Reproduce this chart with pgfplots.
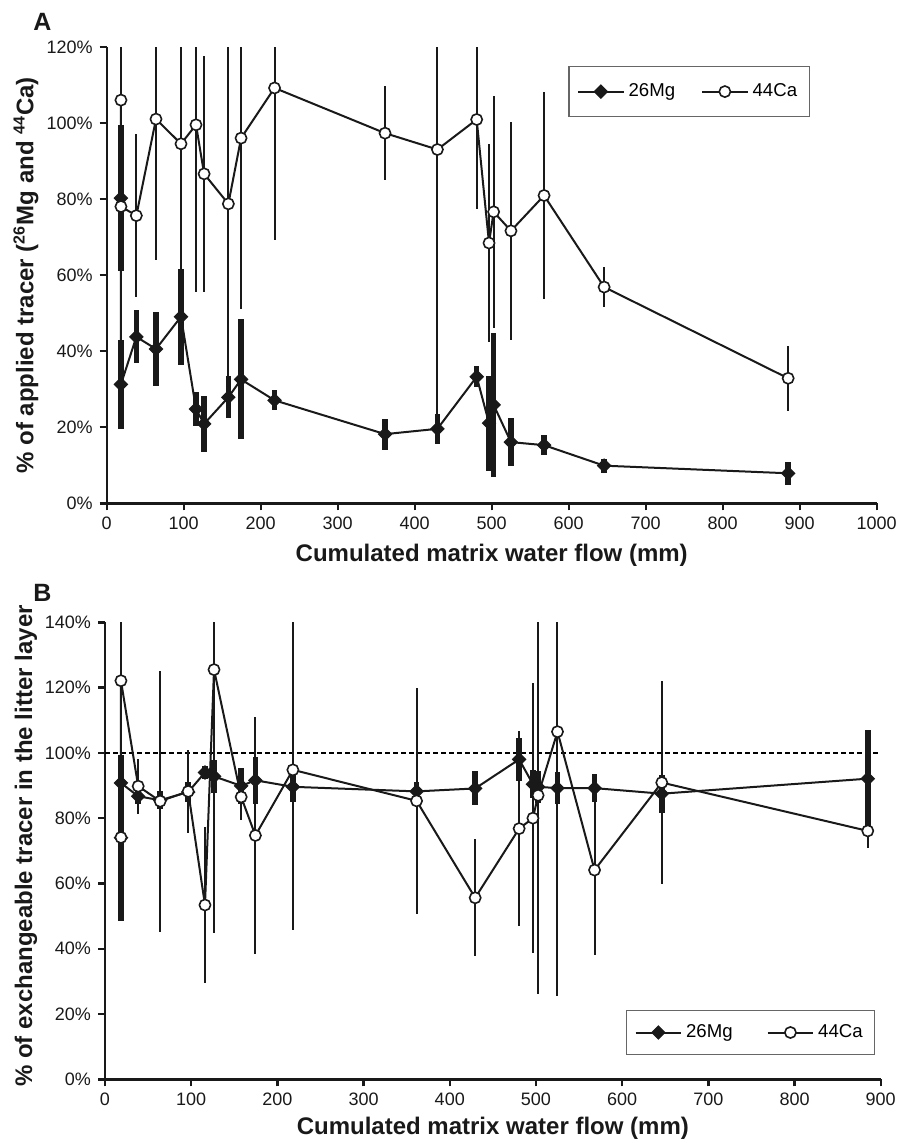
\documentclass[border=0pt]{standalone}
\usepackage{pgfplots}
\pgfplotsset{compat=1.18}
\usepackage{fontspec}
\setmainfont{Liberation Sans}

\pgfplotsset{
  panel/.style={
    scale only axis,
    axis x line*=bottom, axis y line*=left,
    axis line style={line width=1.2pt, black!90},
    every tick/.style={line width=1.2pt, black!90},
    major tick length=3.5pt,
    tick align=outside,
    /pgf/number format/assume math mode=true,
    /pgf/number format/set thousands separator={},
    tick label style={font=\fontsize{9}{10}\selectfont, black!90},
    label style={font=\bfseries\fontsize{12}{14}\selectfont, black!90},
    legend style={draw=black!60, line width=0.6pt, font=\fontsize{9.3}{10}\selectfont,
      inner xsep=4pt},
    legend columns=2,
  },
  mg/.style={
    black!90, line width=1pt,
    mark=square*, mark size=2.3pt, mark options={rotate=45, fill=black!90, line width=0.6pt},
    error bars/.cd, y dir=both, y explicit, error mark=none,
    error bar style={line width=2.8pt, black!90},
  },
  ca/.style={
    black!90, line width=1pt,
    mark=*, mark size=2.8pt, mark options={fill=white, line width=0.8pt},
    error bars/.cd, y dir=both, y explicit, error mark=none,
    error bar style={line width=1pt, black!90},
  },
  legend image code/.code={
    \draw[mark repeat=2, mark phase=2] plot coordinates {(0cm,0cm) (0.4cm,0cm) (0.8cm,0cm)};
  },
}

\begin{document}
\begin{tikzpicture}[x=1pt, y=1pt]
\path[use as bounding box] (0,0) rectangle (454,-571.5);

% ---- panel A
\begin{axis}[panel,
  at={(53.35pt,-251.65pt)}, anchor=south west,
  width=385pt, height=228pt,
  xmin=0, xmax=1000, ymin=0, ymax=120,
  xtick={0,100,...,1000},
  ytick={0,20,...,120},
  yticklabels={0\%,20\%,40\%,60\%,80\%,100\%,120\%},
  xlabel={Cumulated matrix water flow (mm)},
  ylabel={\% of applied tracer (\textsuperscript{26}Mg and \textsuperscript{44}Ca)},
  xlabel style={at={(axis description cs:0.5,-0.1134)}, anchor=center},
  ylabel style={at={(axis description cs:-0.1048,0.5)}, anchor=center},
  legend style={at={(0.913,0.959)}, anchor=north east, inner ysep=6.5pt,
    /tikz/every even column/.append style={column sep=11pt}},
]
\addplot[mg] coordinates {
  (18.5,80.3) +- (0,19.3)
  (18.5,31.3) +- (0,11.8)
  (38.5,43.8) +- (0,7.0)
  (64,40.6) +- (0,9.8)
  (96.5,49.1) +- (0,12.6)
  (116,24.8) +- (0,4.5)
  (126.5,20.9) +- (0,7.4)
  (158,27.9) +- (0,5.5)
  (174.5,32.6) +- (0,15.8)
  (218,27.1) +- (0,2.6)
  (361.5,18.2) +- (0,4.1)
  (429.5,19.6) +- (0,4.0)
  (480.5,33.3) +- (0,2.8)
  (496.5,21.1) +- (0,12.5)
  (502.5,25.9) +- (0,19.0)
  (525,16.1) +- (0,6.3)
  (568,15.3) +- (0,2.6)
  (646,9.9) +- (0,1.8)
  (885,7.9) +- (0,3.0)
};
\addlegendentry{26Mg}
\addplot[ca] coordinates {
  (18.5,106.1) +- (0,30)
  (18.5,78.1) +- (0,35)
  (38.5,75.7) +- (0,21.5)
  (64,101.1) +- (0,37)
  (96.5,94.6) +- (0,33)
  (116,99.6) +- (0,44)
  (126.5,86.7) +- (0,31)
  (158,78.8) +- (0,46)
  (174.5,96.1) +- (0,45)
  (218,109.3) +- (0,40)
  (361.5,97.4) +- (0,12.3)
  (429.5,93.1) +- (0,70)
  (480.5,101.0) +- (0,23.5)
  (496.5,68.5) +- (0,26)
  (502.5,76.7) +- (0,30.6)
  (525,71.7) +- (0,28.6)
  (568,81.0) +- (0,27.3)
  (646,56.9) +- (0,5.3)
  (885,32.9) +- (0,8.6)
};
\addlegendentry{44Ca}
\end{axis}

% ---- panel B
\begin{axis}[panel,
  at={(52.5pt,-539.65pt)}, anchor=south west,
  width=387.85pt, height=228.5pt,
  xmin=0, xmax=900, ymin=0, ymax=140,
  xtick={0,100,...,900},
  ytick={0,20,...,140},
  yticklabels={0\%,20\%,40\%,60\%,80\%,100\%,120\%,140\%},
  xlabel={Cumulated matrix water flow (mm)},
  ylabel={\% of exchangeable tracer in the litter layer},
  xlabel style={at={(axis description cs:0.5,-0.1066)}, anchor=center},
  ylabel style={at={(axis description cs:-0.1018,0.5105)}, anchor=center},
  legend style={at={(0.993,0.053)}, anchor=south east, inner ysep=5pt,
    /tikz/every even column/.append style={column sep=15pt}},
]
\addplot[black, line width=1pt, dash pattern=on 2.5pt off 1.5pt, forget plot]
  coordinates {(0,100) (900,100)};
\addplot[mg] coordinates {
  (18.5,74.0) +- (0,25.4)
  (18.5,90.8) +- (0,8)
  (38.5,86.7) +- (0,2.5)
  (64,85.5) +- (0,2.7)
  (96.5,88.0) +- (0,3)
  (116,94.0) +- (0,2)
  (126.5,92.8) +- (0,5)
  (158,89.9) +- (0,5.5)
  (174.5,91.6) +- (0,7.2)
  (218,89.6) +- (0,4.7)
  (361.5,88.2) +- (0,2.8)
  (429.5,89.1) +- (0,5.2)
  (480.5,98.0) +- (0,6.6)
  (496.5,90.4) +- (0,4.3)
  (502.5,89.6) +- (0,5)
  (525,89.2) +- (0,4.9)
  (568,89.2) +- (0,4.4)
  (646,87.5) +- (0,5.8)
  (885,92.1) +- (0,15)
};
\addlegendentry{26Mg}
\addplot[ca] coordinates {
  (18.5,74.1) +- (0,25)
  (18.5,122.1) +- (0,30)
  (38.5,89.8) +- (0,8.4)
  (64,85.2) +- (0,40)
  (96.5,88.2) +- (0,12.6)
  (116,53.4) +- (0,24)
  (126.5,125.5) +- (0,80.6)
  (158,86.5) +- (0,7)
  (174.5,74.7) +- (0,36.3)
  (218,94.8) +- (0,49)
  (361.5,85.3) +- (0,34.7)
  (429.5,55.6) +- (0,17.9)
  (480.5,76.8) +- (0,29.9)
  (496.5,80.0) +- (0,41.3)
  (502.5,87.0) +- (0,61)
  (525,106.5) +- (0,81)
  (568,64.1) +- (0,26)
  (646,90.9) +- (0,31)
  (885,76.1) +- (0,5.2)
};
\addlegendentry{44Ca}
\end{axis}

\node[font=\bfseries\fontsize{12.5}{14}\selectfont, black!90] at (21.25,-10.75) {A};
\node[font=\bfseries\fontsize{12.5}{14}\selectfont, black!90] at (21.25,-296.25) {B};
\end{tikzpicture}
\end{document}
